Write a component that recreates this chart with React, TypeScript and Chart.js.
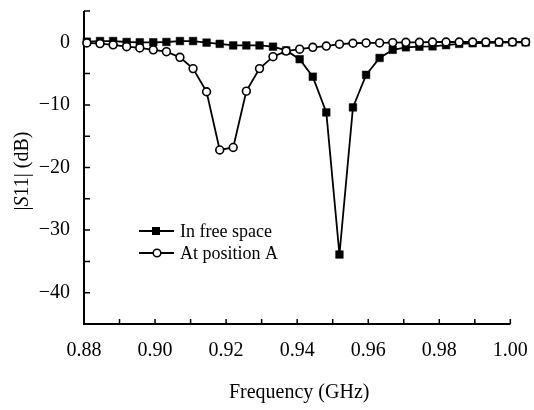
import React, { useEffect, useRef } from 'react';
import { Chart, registerables } from 'chart.js';

Chart.register(...registerables);

// Frequency (GHz) of each measured point
const frequencies = [
  0.8808, 0.8845, 0.8882, 0.892, 0.8957, 0.8995, 0.9032, 0.907, 0.9107, 0.9145,
  0.9182, 0.922, 0.9257, 0.9294, 0.9332, 0.9369, 0.9407, 0.9444, 0.9482, 0.9519,
  0.9557, 0.9594, 0.9632, 0.9669, 0.9706, 0.9744, 0.9781, 0.9819, 0.9856, 0.9894,
  0.9931, 0.9968, 1.0006, 1.0043,
];

// |S11| (dB) in free space (filled squares)
const freeSpace = [
  0.1, 0.2, 0.2, 0.05, 0, 0, 0.05, 0.2, 0.2, -0.05,
  -0.25, -0.5, -0.5, -0.5, -0.7, -1.3, -2.7, -5.5, -11.2, -33.9,
  -10.4, -5.2, -2.5, -1.2, -0.8, -0.7, -0.65, -0.45, -0.25, -0.15,
  -0.1, -0.05, 0, 0,
];

// |S11| (dB) at position A (open circles)
const positionA = [
  -0.1, -0.2, -0.4, -0.7, -0.9, -1.2, -1.5, -2.4, -4.2, -7.9,
  -17.2, -16.8, -7.8, -4.2, -2.3, -1.4, -1.1, -0.8, -0.6, -0.3,
  -0.15, -0.1, -0.1, -0.05, 0, 0, 0.05, 0.05, 0.05, 0.05,
  0.05, 0.05, 0.05, 0.05,
];

// tick positions (labels shown on the labelled subset only)
const xTicks = [0.88, 0.89, 0.9, 0.91, 0.92, 0.93, 0.94, 0.95, 0.96, 0.97, 0.98, 0.99, 1.0];
const xTickLabels = ['0.88', '', '0.90', '', '0.92', '', '0.94', '', '0.96', '', '0.98', '', '1.00'];
const yTicks = [5, 0, -5, -10, -15, -20, -25, -30, -35, -40, -45];
const yTickLabels = ['', '0', '', '\u221210', '', '\u221220', '', '\u221230', '', '\u221240', ''];

const seriesNames = ['In free space', 'At position A'];
const xTitle = 'Frequency (GHz)';
const X_SCALE_MAX = 1.005; // data runs slightly past the 1.00 end of the axis

const FONT = "'Liberation Serif', 'Times New Roman', serif";

const decorPlugin = {
  id: 'decor',
  beforeDatasetsDraw(chart: any) {
    const { ctx, chartArea } = chart;
    const { left, top, bottom } = chartArea;
    const xs = chart.scales.x;
    const ys = chart.scales.y;
    const axisRight = xs.getPixelForValue(xTicks[xTicks.length - 1]);
    ctx.save();
    ctx.strokeStyle = '#000';
    ctx.lineWidth = 2;
    ctx.beginPath();
    ctx.moveTo(left, top);
    ctx.lineTo(left, bottom);
    ctx.lineTo(axisRight, bottom);
    ctx.stroke();
    ctx.lineWidth = 1.5;
    ctx.beginPath();
    xs.ticks.forEach((t: any) => {
      const px = xs.getPixelForValue(t.value);
      ctx.moveTo(px, bottom);
      ctx.lineTo(px, bottom - 5);
    });
    ys.ticks.forEach((t: any) => {
      const py = ys.getPixelForValue(t.value);
      ctx.moveTo(left, py);
      ctx.lineTo(left + 6, py);
    });
    ctx.stroke();
    ctx.restore();
  },
  afterDraw(chart: any) {
    const { ctx, chartArea } = chart;
    const xs = chart.scales.x;
    ctx.save();
    ctx.fillStyle = '#000';
    // x-axis title, centred under the drawn axis
    ctx.font = `20px ${FONT}`;
    ctx.textAlign = 'center';
    ctx.textBaseline = 'middle';
    const axisMid = (chartArea.left + xs.getPixelForValue(xTicks[xTicks.length - 1])) / 2;
    ctx.fillText(xTitle, axisMid + 2, 393);

    // y-axis title with italic S
    const parts = [
      { t: '|', f: `20px ${FONT}` },
      { t: 'S', f: `italic 20px ${FONT}` },
      { t: '11| (dB)', f: `20px ${FONT}` },
    ];
    let total = 0;
    parts.forEach((p) => {
      ctx.font = p.f;
      total += ctx.measureText(p.t).width;
    });
    ctx.translate(22, 171);
    ctx.rotate(-Math.PI / 2);
    let x = -total / 2;
    parts.forEach((p) => {
      ctx.font = p.f;
      ctx.textAlign = 'left';
      ctx.fillText(p.t, x, 1);
      x += ctx.measureText(p.t).width;
    });
    ctx.restore();

    // legend
    ctx.save();
    const rows = [
      { y: 231, name: seriesNames[0], style: 'rect' },
      { y: 253, name: seriesNames[1], style: 'circle' },
    ];
    rows.forEach((r) => {
      ctx.strokeStyle = '#000';
      ctx.lineWidth = 2;
      ctx.beginPath();
      ctx.moveTo(139, r.y);
      ctx.lineTo(174, r.y);
      ctx.stroke();
      if (r.style === 'rect') {
        ctx.fillStyle = '#000';
        ctx.fillRect(152, r.y - 4, 8, 8);
      } else {
        ctx.fillStyle = '#fff';
        ctx.lineWidth = 1.6;
        ctx.beginPath();
        ctx.arc(157, r.y, 3.8, 0, Math.PI * 2);
        ctx.fill();
        ctx.stroke();
      }
      ctx.fillStyle = '#000';
      ctx.font = `18px ${FONT}`;
      ctx.textAlign = 'left';
      ctx.textBaseline = 'middle';
      ctx.fillText(r.name, 180, r.y + 1);
    });
    ctx.restore();
  },
};

export default function App() {
  const ref = useRef<HTMLCanvasElement | null>(null);
  useEffect(() => {
    if (!ref.current) return;
    const chart = new Chart(ref.current, {
      type: 'line',
      data: {
        datasets: [
          {
            label: seriesNames[0],
            data: frequencies.map((f, i) => ({ x: f, y: freeSpace[i] })),
            borderColor: '#000',
            backgroundColor: '#000',
            borderWidth: 1.8,
            pointStyle: 'rect',
            pointRadius: 5.4,
            pointBorderWidth: 0.5,
            pointBackgroundColor: '#000',
            pointBorderColor: '#000',
            clip: false as any,
            order: 1,
          },
          {
            label: seriesNames[1],
            data: frequencies.map((f, i) => ({ x: f, y: positionA[i] })),
            borderColor: '#000',
            backgroundColor: '#fff',
            borderWidth: 1.8,
            pointStyle: 'circle',
            pointRadius: 3.9,
            pointBorderWidth: 1.6,
            pointBackgroundColor: '#fff',
            pointBorderColor: '#000',
            clip: false as any,
            order: 0,
          },
        ],
      },
      options: {
        responsive: false,
        animation: false,
        layout: { padding: { left: 0, top: 11, right: 5.2, bottom: 0 } },
        plugins: { legend: { display: false }, tooltip: { enabled: false } },
        scales: {
          x: {
            type: 'linear',
            min: 0.88,
            max: X_SCALE_MAX,
            grid: { display: false, drawTicks: false },
            border: { display: false },
            afterBuildTicks: (s: any) => {
              s.ticks = xTicks.map((v) => ({ value: v }));
            },
            ticks: {
              autoSkip: false,
              maxRotation: 0,
              padding: 15,
              color: '#000',
              font: { family: FONT, size: 20 },
              callback: (_v: any, i: number) => xTickLabels[i] ?? '',
            },
            afterFit: (s: any) => {
              s.height = 86;
              s.paddingLeft = 0;
              s.paddingRight = 0;
            },
          },
          y: {
            type: 'linear',
            min: -45,
            max: 5,
            grid: { display: false, drawTicks: false },
            border: { display: false },
            afterBuildTicks: (s: any) => {
              s.ticks = yTicks.map((v) => ({ value: v }));
            },
            ticks: {
              autoSkip: false,
              padding: 14,
              color: '#000',
              font: { family: FONT, size: 20 },
              callback: (_v: any, i: number) => yTickLabels[i] ?? '',
            },
            afterFit: (s: any) => {
              s.width = 84;
              s.paddingTop = 0;
              s.paddingBottom = 0;
            },
          },
        },
      },
      plugins: [decorPlugin],
    });
    return () => chart.destroy();
  }, []);
  return (
    <div style={{ position: 'absolute', left: 0, top: 0, width: 534, height: 410, background: '#fff' }}>
      <canvas ref={ref} width={534} height={410} style={{ display: 'block' }} />
    </div>
  );
}
